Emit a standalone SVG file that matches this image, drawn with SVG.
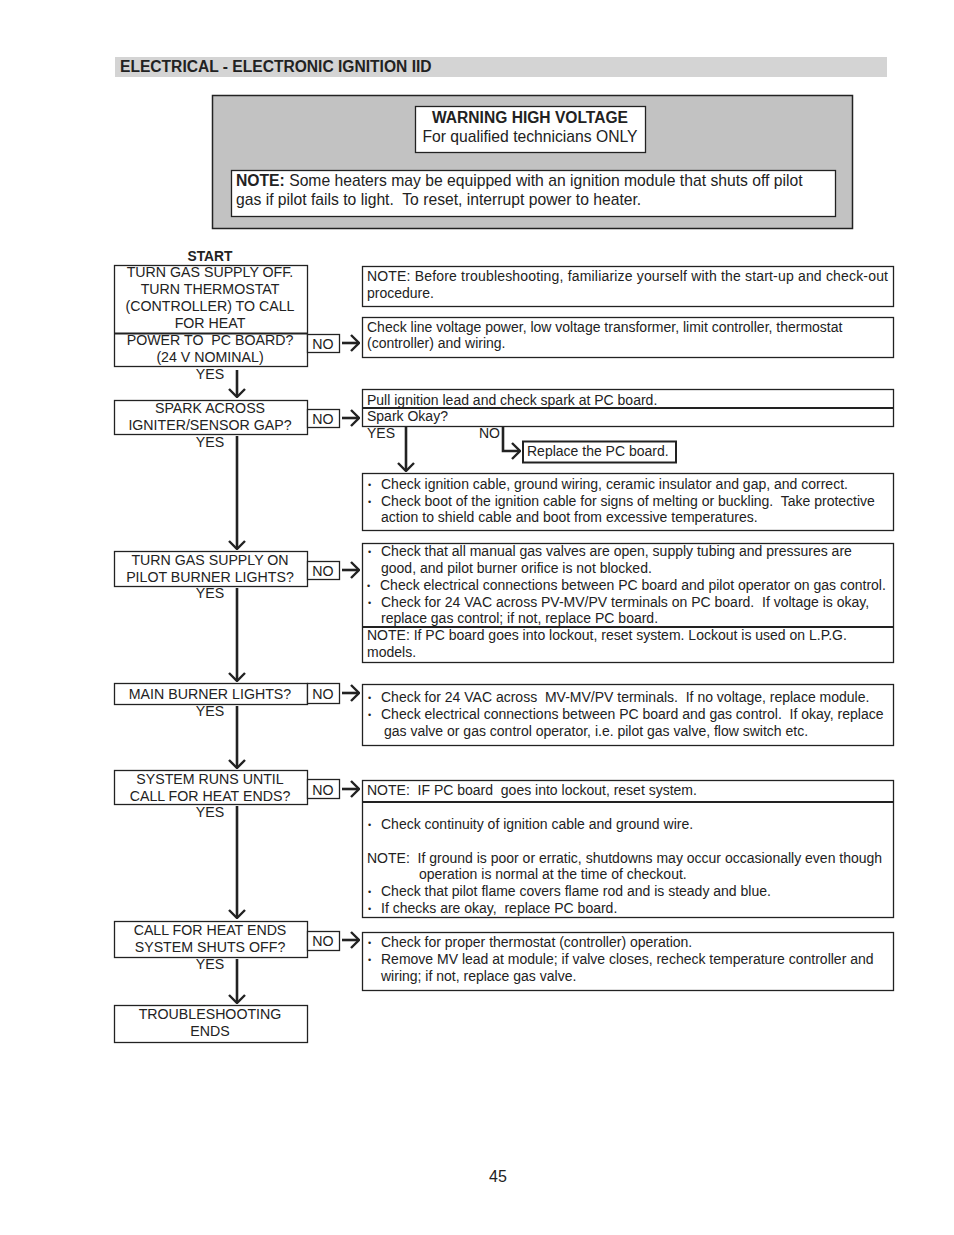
<svg xmlns="http://www.w3.org/2000/svg" width="954" height="1235" viewBox="0 0 954 1235">
<defs>
<style>
text{font-family:"Liberation Sans",Arial,Helvetica,sans-serif;fill:#222;white-space:pre}
.L{font-size:14.2px;text-anchor:middle}
.R{font-size:14px}
.b{font-size:9px}
.W{font-size:15.7px}
.bold{font-weight:bold}
.box{fill:#fff;stroke:#222;stroke-width:1.3}
.div{stroke:#222;stroke-width:2.2}
.con{stroke:#222;stroke-width:2.6;fill:none}
</style>
<marker id="ah" viewBox="0 0 10 18" refX="9" refY="9" markerWidth="10" markerHeight="18" markerUnits="userSpaceOnUse" orient="auto">
<path d="M1,1 L9,9 L1,17" fill="none" stroke="#222" stroke-width="2.4"/>
</marker>
</defs>
<rect width="954" height="1235" fill="#fff"/>

<g id="header">
<rect x="115" y="57" width="772" height="20" fill="#d4d4d4"/>
<text x="120" y="71.5" class="bold" font-size="15.6">ELECTRICAL - ELECTRONIC IGNITION IID</text>
</g>

<g id="warning-panel">
<rect x="212.5" y="95.5" width="640" height="133" fill="#c2c2c2" stroke="#222" stroke-width="1.5"/>
<rect x="415.5" y="106.5" width="230" height="46" class="box"/>
<text x="530" y="123" class="bold" font-size="15.6" text-anchor="middle">WARNING HIGH VOLTAGE</text>
<text x="530" y="142" class="W" text-anchor="middle">For qualified technicians ONLY</text>
<rect x="231.5" y="170.5" width="604" height="46" class="box"/>
<text x="236" y="186" class="W"><tspan font-weight="bold">NOTE:</tspan> Some heaters may be equipped with an ignition module that shuts off pilot</text>
<text x="236" y="205" class="W">gas if pilot fails to light.  To reset, interrupt power to heater.</text>
</g>

<g id="start">
<text x="210" y="261" class="bold" font-size="13.8" text-anchor="middle">START</text>
<rect x="114.5" y="265.5" width="193" height="101" class="box"/>
<line x1="114.5" y1="333.5" x2="307.5" y2="333.5" class="div"/>
<text x="210" y="277" class="L">TURN GAS SUPPLY OFF.</text>
<text x="210" y="294" class="L">TURN THERMOSTAT</text>
<text x="210" y="311" class="L">(CONTROLLER) TO CALL</text>
<text x="210" y="328" class="L">FOR HEAT</text>
<text x="210" y="345" class="L">POWER TO  PC BOARD?</text>
<text x="210" y="362" class="L">(24 V NOMINAL)</text>
<text x="210" y="379" class="L">YES</text>
<rect x="307.5" y="334.5" width="32" height="18" class="box"/>
<text x="323" y="348.5" class="L">NO</text>
</g>

<g id="spark">
<rect x="114.5" y="400.5" width="193" height="34" class="box"/>
<text x="210" y="413" class="L">SPARK ACROSS</text>
<text x="210" y="430" class="L">IGNITER/SENSOR GAP?</text>
<text x="210" y="447" class="L">YES</text>
<rect x="307.5" y="409.5" width="32" height="18" class="box"/>
<text x="323" y="424" class="L">NO</text>
</g>

<g id="pilot">
<rect x="114.5" y="551.5" width="193" height="35" class="box"/>
<text x="210" y="565" class="L">TURN GAS SUPPLY ON</text>
<text x="210" y="582" class="L">PILOT BURNER LIGHTS?</text>
<text x="210" y="598" class="L">YES</text>
<rect x="307.5" y="561.5" width="32" height="18" class="box"/>
<text x="323" y="575.5" class="L">NO</text>
</g>

<g id="main">
<rect x="114.5" y="683.5" width="193" height="21" class="box"/>
<text x="210" y="698.5" class="L">MAIN BURNER LIGHTS?</text>
<text x="210" y="716" class="L">YES</text>
<rect x="307.5" y="683.5" width="32" height="20" class="box"/>
<text x="323" y="698.5" class="L">NO</text>
</g>

<g id="runs">
<rect x="114.5" y="770.5" width="193" height="34" class="box"/>
<text x="210" y="784" class="L">SYSTEM RUNS UNTIL</text>
<text x="210" y="801" class="L">CALL FOR HEAT ENDS?</text>
<text x="210" y="817" class="L">YES</text>
<rect x="307.5" y="779.5" width="32" height="19" class="box"/>
<text x="323" y="794.5" class="L">NO</text>
</g>

<g id="shutoff">
<rect x="114.5" y="921.5" width="193" height="36" class="box"/>
<text x="210" y="935" class="L">CALL FOR HEAT ENDS</text>
<text x="210" y="952" class="L">SYSTEM SHUTS OFF?</text>
<text x="210" y="969" class="L">YES</text>
<rect x="307.5" y="931.5" width="32" height="19" class="box"/>
<text x="323" y="946" class="L">NO</text>
</g>

<g id="end">
<rect x="114.5" y="1005.5" width="193" height="37" class="box"/>
<text x="210" y="1019" class="L">TROUBLESHOOTING</text>
<text x="210" y="1036" class="L">ENDS</text>
</g>

<g id="note-before">
<rect x="362.5" y="266.5" width="531" height="40" class="box"/>
<text x="367" y="281" class="R" textLength="521" lengthAdjust="spacing">NOTE: Before troubleshooting, familiarize yourself with the start-up and check-out</text>
<text x="367" y="298" class="R">procedure.</text>
</g>

<g id="check-line">
<rect x="362.5" y="317.5" width="531" height="40" class="box"/>
<text x="367" y="332" class="R">Check line voltage power, low voltage transformer, limit controller, thermostat</text>
<text x="367" y="348" class="R">(controller) and wiring.</text>
</g>

<g id="pull-lead">
<rect x="362.5" y="389.5" width="531" height="37" class="box"/>
<line x1="362.5" y1="408" x2="893.5" y2="408" class="div"/>
<text x="367" y="405" class="R">Pull ignition lead and check spark at PC board.</text>
<text x="367" y="421" class="R">Spark Okay?</text>
<text x="367" y="438" class="R">YES</text>
<text x="479" y="438" class="R">NO</text>
</g>

<g id="replace-pc">
<rect x="523" y="441.5" width="153" height="21" fill="#fff" stroke="#222" stroke-width="2"/>
<text x="527" y="456" class="R">Replace the PC board.</text>
</g>

<g id="check-cable">
<rect x="362.5" y="473.5" width="531" height="57" class="box"/>
<text x="368" y="488" class="b">•</text><text x="381" y="489" class="R">Check ignition cable, ground wiring, ceramic insulator and gap, and correct.</text>
<text x="368" y="505" class="b">•</text><text x="381" y="506" class="R">Check boot of the ignition cable for signs of melting or buckling.  Take protective</text>
<text x="381" y="522" class="R">action to shield cable and boot from excessive temperatures.</text>
</g>

<g id="check-gas">
<rect x="362.5" y="543.5" width="531" height="119" class="box"/>
<line x1="362.5" y1="627" x2="893.5" y2="627" class="div"/>
<text x="368" y="555" class="b">•</text><text x="381" y="556" class="R">Check that all manual gas valves are open, supply tubing and pressures are</text>
<text x="381" y="573" class="R">good, and pilot burner orifice is not blocked.</text>
<text x="367" y="589" class="b">•</text><text x="380" y="590" class="R">Check electrical connections between PC board and pilot operator on gas control.</text>
<text x="368" y="606" class="b">•</text><text x="381" y="607" class="R">Check for 24 VAC across PV-MV/PV terminals on PC board.  If voltage is okay,</text>
<text x="381" y="623" class="R">replace gas control; if not, replace PC board.</text>
<text x="367" y="640" class="R">NOTE: If PC board goes into lockout, reset system. Lockout is used on L.P.G.</text>
<text x="367" y="657" class="R">models.</text>
</g>

<g id="check-main">
<rect x="362.5" y="684.5" width="531" height="61" class="box"/>
<text x="368" y="701" class="b">•</text><text x="381" y="702" class="R">Check for 24 VAC across  MV-MV/PV terminals.  If no voltage, replace module.</text>
<text x="368" y="718" class="b">•</text><text x="381" y="719" class="R">Check electrical connections between PC board and gas control.  If okay, replace</text>
<text x="384" y="736" class="R">gas valve or gas control operator, i.e. pilot gas valve, flow switch etc.</text>
</g>

<g id="check-runs">
<rect x="362.5" y="780.5" width="531" height="137" class="box"/>
<line x1="362.5" y1="802" x2="893.5" y2="802" class="div"/>
<text x="367" y="795" class="R">NOTE:  IF PC board  goes into lockout, reset system.</text>
<text x="368" y="828" class="b">•</text><text x="381" y="829" class="R">Check continuity of ignition cable and ground wire.</text>
<text x="367" y="863" class="R">NOTE:  If ground is poor or erratic, shutdowns may occur occasionally even though</text>
<text x="419" y="879" class="R">operation is normal at the time of checkout.</text>
<text x="368" y="895" class="b">•</text><text x="381" y="896" class="R">Check that pilot flame covers flame rod and is steady and blue.</text>
<text x="368" y="912" class="b">•</text><text x="381" y="913" class="R">If checks are okay,  replace PC board.</text>
</g>

<g id="check-thermostat">
<rect x="362.5" y="932.5" width="531" height="58" class="box"/>
<text x="368" y="946" class="b">•</text><text x="381" y="947" class="R">Check for proper thermostat (controller) operation.</text>
<text x="368" y="963" class="b">•</text><text x="381" y="964" class="R">Remove MV lead at module; if valve closes, recheck temperature controller and</text>
<text x="381" y="981" class="R">wiring; if not, replace gas valve.</text>
</g>

<g id="connectors">
<line x1="237" y1="370" x2="237" y2="397" class="con" marker-end="url(#ah)"/>
<line x1="237" y1="436" x2="237" y2="549" class="con" marker-end="url(#ah)"/>
<line x1="237" y1="588" x2="237" y2="681" class="con" marker-end="url(#ah)"/>
<line x1="237" y1="706" x2="237" y2="768" class="con" marker-end="url(#ah)"/>
<line x1="237" y1="806" x2="237" y2="918" class="con" marker-end="url(#ah)"/>
<line x1="237" y1="959" x2="237" y2="1003" class="con" marker-end="url(#ah)"/>
<line x1="342" y1="343" x2="359" y2="343" class="con" marker-end="url(#ah)"/>
<line x1="342" y1="418" x2="359" y2="418" class="con" marker-end="url(#ah)"/>
<line x1="342" y1="570" x2="359" y2="570" class="con" marker-end="url(#ah)"/>
<line x1="342" y1="693" x2="359" y2="693" class="con" marker-end="url(#ah)"/>
<line x1="342" y1="789" x2="359" y2="789" class="con" marker-end="url(#ah)"/>
<line x1="342" y1="940" x2="359" y2="940" class="con" marker-end="url(#ah)"/>
<line x1="406" y1="427" x2="406" y2="471" class="con" marker-end="url(#ah)"/>
<polyline points="503,427 503,451 520,451" class="con" marker-end="url(#ah)"/>
</g>

<text x="498" y="1182" font-size="16" text-anchor="middle">45</text>
</svg>
